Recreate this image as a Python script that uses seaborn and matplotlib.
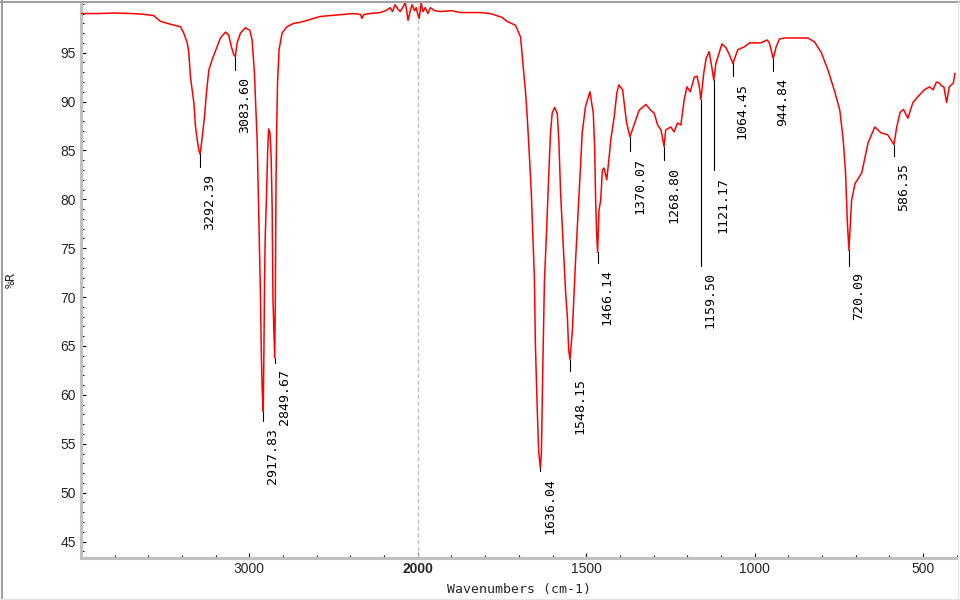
import numpy as np
import pandas as pd
import matplotlib
matplotlib.use("Agg")
import matplotlib.pyplot as plt
import seaborn as sns
from matplotlib.ticker import FixedLocator, FixedFormatter
from matplotlib.lines import Line2D

# IR spectrum (wavenumber in cm-1, %R)
wavenumber = [
    4000, 3900, 3800, 3700, 3646, 3569, 3528, 3468, 3409, 3390, 3369, 3360,
    3350, 3330, 3320, 3310, 3300, 3292.39, 3280, 3267, 3255, 3241, 3221, 3192,
    3172, 3142, 3123, 3107, 3093, 3083.60, 3073, 3053, 3024, 2998, 2984, 2970,
    2964, 2954, 2948, 2941, 2935, 2929, 2924, 2917.83, 2914, 2910, 2906, 2899,
    2892, 2886, 2878, 2871, 2865, 2860, 2849.67, 2846, 2842, 2838, 2833, 2824,
    2806, 2777, 2737, 2698, 2579, 2450, 2384, 2340, 2332, 2320, 2283, 2223,
    2190, 2164, 2150, 2135, 2120, 2105, 2090, 2075, 2066, 2058, 2046, 2034,
    2020, 2010, 2000, 1996, 1990, 1985, 1978, 1970, 1963, 1950, 1934, 1900,
    1874, 1815, 1785, 1775, 1750, 1735, 1710, 1695, 1689, 1680, 1674, 1668,
    1663, 1658, 1654, 1651, 1646, 1641, 1636.04, 1633, 1629, 1624, 1618, 1611,
    1606, 1601, 1594, 1586, 1581, 1576, 1568, 1561, 1556, 1552, 1548.15, 1541,
    1532, 1522, 1517, 1512, 1502, 1489, 1479, 1475, 1472, 1469, 1466.14, 1462,
    1457, 1452, 1447, 1439, 1432, 1427, 1417, 1409, 1403, 1392, 1386, 1380,
    1370.07, 1363, 1353, 1343, 1323, 1308, 1298, 1288, 1278, 1268.80, 1264,
    1249, 1239, 1229, 1219, 1209, 1201, 1191, 1179, 1171, 1164, 1159.50, 1151,
    1144, 1135, 1127, 1121.17, 1115, 1105, 1097, 1085, 1075, 1064.45, 1050,
    1030, 1015, 996, 981, 963, 956, 949, 944.84, 936, 926, 911, 842, 822, 802,
    782, 762, 747, 737, 730, 725, 720.09, 712, 702, 682, 663, 643, 625, 605,
    586.35, 578, 568, 558, 545, 530, 515, 496, 481, 470, 460, 452, 445, 438,
    430, 422, 410, 405,
]
reflectance = [
    99.0, 99.0, 99.05, 99.0, 98.95, 98.8, 98.2, 97.9, 97.65, 97.0, 96.0, 95.0,
    92.5, 89.9, 87.4, 86.1, 85.0, 84.6, 86.4, 88.4, 90.9, 93.2, 94.3, 95.6,
    96.5, 97.1, 96.8, 95.6, 94.8, 94.6, 96.0, 97.0, 97.55, 97.3, 96.3, 92.9,
    90.2, 86.1, 81.3, 75.5, 70.7, 64.0, 60.5, 58.3, 64.3, 71.8, 76.2, 80.0,
    84.7, 87.2, 86.8, 84.4, 79.3, 69.7, 63.8, 69.7, 81.7, 87.1, 91.9, 95.3,
    97.0, 97.65, 98.0, 98.1, 98.7, 98.9, 99.0, 98.9, 98.5, 98.9, 99.0, 99.1,
    99.3, 99.6, 99.2, 99.9, 99.5, 99.2, 99.6, 100.1, 99.3, 98.3, 99.2, 99.9,
    99.3, 99.6, 98.9, 98.5, 100.1, 99.2, 99.6, 99.0, 99.6, 99.3, 99.2, 99.3,
    99.1, 99.1, 99.0, 98.9, 98.6, 98.2, 97.8, 96.6, 94.3, 90.9, 87.8, 84.0,
    80.6, 75.8, 72.1, 65.3, 59.2, 54.1, 52.5, 54.1, 62.6, 71.7, 76.5, 82.7,
    86.8, 88.8, 89.4, 88.8, 85.8, 80.6, 75.1, 70.4, 68.0, 64.6, 63.6, 66.6,
    73.5, 79.9, 83.3, 86.8, 89.5, 91.0, 88.8, 85.4, 79.9, 76.5, 74.6, 78.9,
    79.9, 83.0, 83.2, 82.0, 84.3, 86.1, 88.4, 90.9, 91.7, 91.2, 89.5, 87.8,
    86.4, 87.1, 88.1, 89.1, 89.7, 89.1, 88.8, 87.6, 87.1, 85.4, 87.1,
    87.4, 86.9, 87.8, 87.6, 90.2, 91.5, 91.0, 92.5, 92.6, 91.5, 90.2, 92.9,
    94.4, 95.1, 93.5, 92.2, 93.9, 95.0, 95.9, 95.5, 94.8, 93.9, 95.3,
    95.6, 96.0, 96.0, 96.0, 96.3, 96.0, 95.0, 94.4, 95.6, 96.4, 96.5, 96.5, 96.1, 95.0,
    93.2, 91.0, 89.1, 86.1, 82.7, 77.9, 74.8, 79.9, 81.6, 82.7, 85.8, 87.4, 86.8, 86.6,
    85.6, 87.4, 88.9, 89.2, 88.3, 89.9, 90.5, 91.2, 91.5, 91.2, 92.0, 91.9, 91.6, 91.5,
    89.9, 91.5, 91.9, 92.9,
]

# labelled peaks and where their black marker line stops (%R)
peak_wn = [3292.39, 3083.60, 2917.83, 2849.67, 1636.04, 1548.15, 1466.14,
           1370.07, 1268.80, 1159.50, 1121.17, 1064.45, 944.84, 720.09, 586.35]
peak_end = [83.3, 93.2, 57.3, 63.3, 52.2, 62.4, 73.5,
            84.9, 84.0, 73.2, 83.0, 92.6, 93.1, 73.2, 84.4]

x_major = [3000, 2000, 1500, 1000, 500]
x_major_labels = ['3000', '2000', '1500', '1000', '500']
y_major = list(range(45, 100, 5))

sns.set_style("white")
plt.rcParams['font.family'] = ['DejaVu Sans Mono']


# spectrometer style axis: region above 2000 cm-1 is compressed 2x
def fwd(x):
    x = np.asarray(x, dtype=float)
    return np.where(x > 2000, 2000 + (x - 2000) / 2, x)


def inv(x):
    x = np.asarray(x, dtype=float)
    return np.where(x > 2000, 2000 + (x - 2000) * 2, x)


fig = plt.figure(figsize=(9.6, 6), dpi=100, facecolor='white')
ax = fig.add_axes([81 / 960, 42.3 / 600, 875.7 / 960, 555.9 / 600])

df = pd.DataFrame({'wn': wavenumber, 'R': reflectance})
ax.axvline(2000, color='#c0c0c0', lw=1, ls=(0, (3, 2)), zorder=1)
sns.lineplot(data=df, x='wn', y='R', color='#ff0000', linewidth=1.1,
             estimator=None, sort=False, ax=ax, zorder=3)

ax.set_xscale('function', functions=(fwd, inv))
ax.set_xlim(4000, 400)
ax.set_ylim(43.35, 100.2)

# peak markers
lookup = dict(zip(wavenumber, reflectance))
for wn, end in zip(peak_wn, peak_end):
    ax.plot([wn, wn], [lookup[wn], end], color='black', lw=0.8, zorder=4)
    ax.annotate(f"{wn:.2f}", xy=(wn, end), xytext=(6.8, -4.7),
                textcoords='offset points', rotation=90, ha='center', va='top',
                fontsize=9.5, color='black')

# ticks
minors = [w for w in list(range(3800, 2000, -200)) + list(range(1900, 399, -100))
          if w not in x_major]
ax.xaxis.set_major_locator(FixedLocator(x_major))
ax.xaxis.set_major_formatter(FixedFormatter(x_major_labels))
ax.xaxis.set_minor_locator(FixedLocator(minors))
ax.yaxis.set_major_locator(FixedLocator(y_major))
ax.yaxis.set_minor_locator(FixedLocator(list(range(44, 101))))
ax.tick_params(which='both', direction='in', color='black', width=0.8,
               bottom=True, left=True, labelsize=10)
ax.tick_params(which='major', length=3.5)
ax.tick_params(which='minor', length=2.5)
ax.tick_params(axis='x', pad=3.2)
ax.tick_params(axis='y', pad=3.6)
for lab in ax.get_xticklabels() + ax.get_yticklabels():
    lab.set_fontfamily('Liberation Sans')
for lab in ax.get_xticklabels():
    if lab.get_text() == '2000':
        lab.set_fontweight('bold')

for side in ['top', 'right']:
    ax.spines[side].set_visible(False)
for side in ['left', 'bottom']:
    ax.spines[side].set_color('#c0c0c0')
    ax.spines[side].set_linewidth(2.2)

ax.set_xlabel('Wavenumbers (cm-1)', fontsize=9.5)
ax.set_ylabel('%R', fontsize=9.5)
ax.xaxis.set_label_coords(0.5, -0.0455)
ax.yaxis.set_label_coords(-0.072, 0.5)

# window frame around the picture
fig.add_artist(Line2D([0, 1], [0.9975, 0.9975], transform=fig.transFigure, color='#a0a0a0', lw=1.5))
fig.add_artist(Line2D([0.0016, 0.0016], [0, 1], transform=fig.transFigure, color='#a0a0a0', lw=1.5))
fig.add_artist(Line2D([0.9984, 0.9984], [0, 1], transform=fig.transFigure, color='#e6e6e6', lw=1))
fig.add_artist(Line2D([0, 1], [0.0025, 0.0025], transform=fig.transFigure, color='#e6e6e6', lw=1))

fig.savefig('out.png', dpi=100, facecolor='white')
